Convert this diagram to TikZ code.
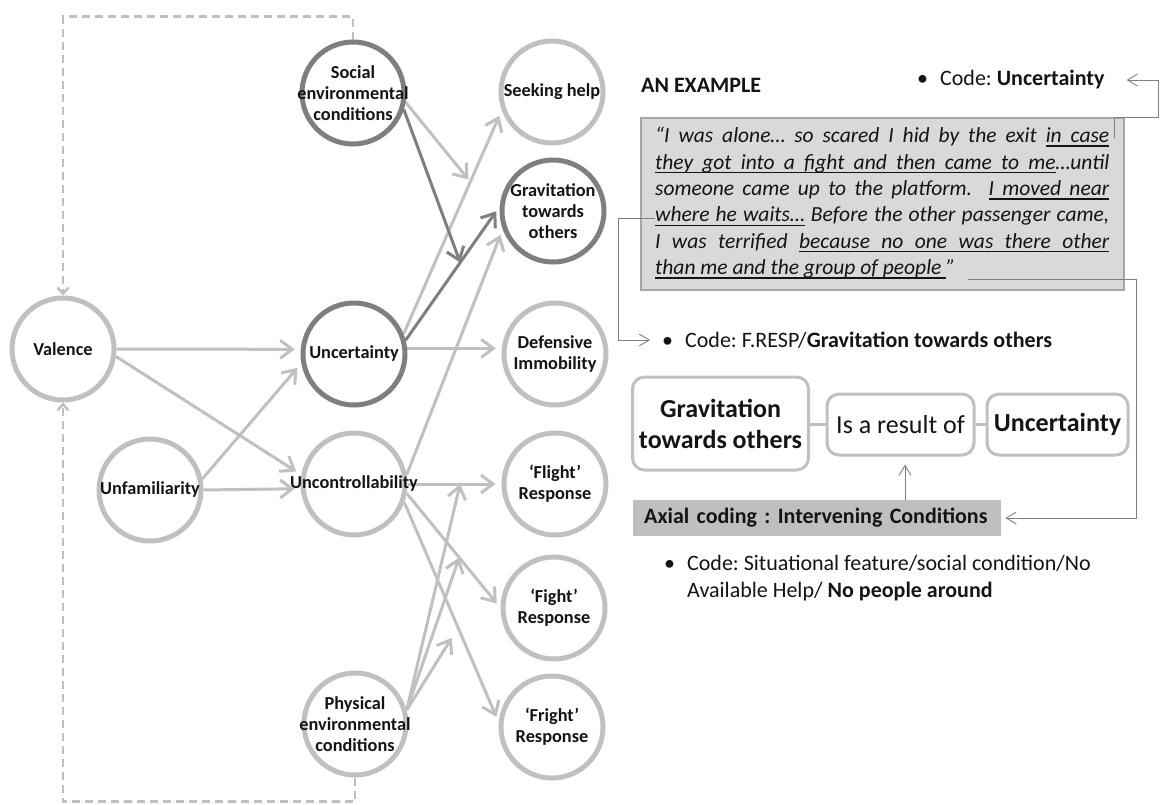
\documentclass[tikz,border=0pt]{standalone}
\usepackage{fontspec}
\setmainfont{Carlito}
\usetikzlibrary{arrows.meta,calc}

\definecolor{lightline}{HTML}{C0C0C0}
\definecolor{darkline}{HTML}{7F7F7F}
\definecolor{dashcol}{HTML}{C0C0C0}
\definecolor{ink}{HTML}{141414}
\definecolor{quotefill}{HTML}{D9D9D9}
\definecolor{quoteedge}{HTML}{A6A6A6}
\definecolor{axialfill}{HTML}{BFBFBF}
\definecolor{connector}{HTML}{7F7F7F}

% underlining that keeps inter-word spaces stretchable (for justified text)
\newcommand{\uw}[1]{\setbox0\hbox{#1}\rlap{\vrule height -2.8pt depth 4.1pt width \wd0}\box0\relax}
\newcommand{\us}{\leaders\hrule height -2.8pt depth 4.1pt\hskip\fontdimen2\font plus\fontdimen3\font minus\fontdimen4\font\relax}
\def\UL#1{\ULloop#1 \ULend}
\def\ULloop#1 #2\ULend{\uw{#1}\ifx\relax#2\relax\else\us\ULloop#2\ULend\fi}

\pgfdeclarelayer{bg}
\pgfsetlayers{bg,main}
\frenchspacing

\begin{document}
\begin{tikzpicture}[x=1pt,y=-1pt,
  circ/.style={circle, draw=lightline, line width=5pt, minimum size=102pt, inner sep=0pt},
  darkcirc/.style={circ, draw=darkline},
  lbl/.style={align=center, text=ink, inner sep=0pt, font=\fontsize{18.3}{21}\selectfont\bfseries},
  flow/.style={draw=lightline, line width=3pt, -{Straight Barb[length=12pt,width=18pt]}, shorten >=6pt},
  darkflow/.style={flow, draw=darkline},
  moderate/.style={flow, shorten >=3pt},
  feedback/.style={draw=dashcol, line width=2.5pt, dash pattern=on 8pt off 5pt, -{Straight Barb[length=6pt,width=11pt]}},
  conn/.style={draw=connector, line width=0.9pt},
  connarrow/.style={conn, -{Straight Barb[length=10pt,width=12pt]}},
  rbox/.style={rectangle, rounded corners=12pt, draw=lightline, line width=3pt, inner sep=2pt, align=center, text=ink},
  boxlink/.style={draw=lightline, line width=3pt},
  body/.style={inner sep=0pt, text=ink, font=\fontsize{22}{26.7}\selectfont}
]
\useasboundingbox (0,0) rectangle (1160,804);

% ---------- concept circles ----------
\node[darkcirc, label={[lbl]center:{Social\\environmental\\conditions}}] (soc) at (353,93) {};
\node[circ, label={[lbl]center:{Seeking help}}] (seek) at (552,92) {};
\node[darkcirc, label={[lbl]center:{Gravitation\\towards\\others}}] (grav) at (553,211) {};
\node[circ, label={[lbl]center:{Valence}}] (val) at (63,349) {};
\node[darkcirc, label={[lbl]center:{Uncertainty}}] (unc) at (354,354) {};
\node[circ, label={[lbl]center:{Defensive\\Immobility}}] (def) at (555,354) {};
\node[circ, label={[lbl]center:{Unfamiliarity}}] (unf) at (150,490) {};
\node[circ, label={[lbl]center:{Uncontrollability}}] (ctl) at (354,484) {};
\node[circ, label={[lbl]center:{‘Flight’\\Response}}] (flight) at (555,484) {};
\node[circ, label={[lbl]center:{‘Fight’\\Response}}] (fight) at (554,608) {};
\node[circ, label={[lbl]center:{‘Fright’\\Response}}] (fright) at (552,727) {};
\node[circ, label={[lbl]center:{Physical\\environmental\\conditions}}] (phys) at (355,724) {};

% ---------- causal links ----------
\begin{pgfonlayer}{bg}
\draw[flow] (val.east) -- (unc.175);
\draw[flow] (val.-8) -- (ctl.170);
\draw[flow] (unf.12) -- (unc.190);
\draw[flow] (unf.east) -- (ctl.185);

\draw[flow] (unc.22) -- coordinate[pos=0.68] (onseek) (seek.200);
\draw[darkflow] (unc.15) -- coordinate[pos=0.58] (ongrav) (grav.175);
\draw[flow] (unc.6) -- (def.174);

\draw[flow] (ctl.10) -- (grav.200);
\draw[flow] (ctl.east) -- coordinate[pos=0.56] (onflight) (flight.west);
\draw[flow] (ctl.-10) -- coordinate[pos=0.56] (onfight) (fight.180);
\draw[flow] (ctl.-20) -- coordinate[pos=0.57] (onfright) (fright.175);

% moderating conditions acting on the links
\draw[moderate] (soc.-10) -- (onseek);
\draw[darkflow, shorten >=0pt] (soc.-18) -- (ongrav);
\draw[moderate, shorten >=0pt] (phys.15) -- (onflight);
\draw[moderate, shorten >=0pt] (phys.15) -- (onfight);
\draw[moderate, shorten >=12pt] (phys.15) -- (onfright);

% feedback loops to valence
\draw[feedback] (soc.north) -- ++(0,-23) -| (val.north);
\draw[feedback] (phys.south) -- ++(0,24) -| (val.south);
\end{pgfonlayer}

% ---------- worked example ----------
\node[body, anchor=west, font=\fontsize{22}{26}\selectfont\bfseries] (example) at (641,85) {AN EXAMPLE};
\node[body, anchor=west] (codeU) at (917,80) {\textbullet\hspace{12pt}Code: \textbf{Uncertainty}};

\node[draw=quoteedge, fill=quotefill, line width=1.5pt, minimum width=483pt, minimum height=172pt, inner sep=0pt] (quote) at (882.5,204) {};
\node[body, anchor=north west, text width=454pt, align=justify, font=\fontsize{21.5}{26.4}\selectfont\itshape] (quotetext) at (655,127)
{“I was alone… so scared I hid by the exit \UL{in case}\linebreak
\UL{they got into a fight and then came to me}…until\linebreak
someone came up to the platform.\ \ \UL{I moved near}\linebreak
\UL{where he waits…} Before the other passenger came,\linebreak
I was terrified \UL{because no one was there other}\linebreak
\UL{than me and the group of people}\us”};

\coordinate (qtick) at (1114,138);
\coordinate (waits) at (655,218);
\coordinate (qend) at (968,279);

\node[body, anchor=west] (codeG) at (662,340) {\textbullet\hspace{12pt}Code: F.RESP/\textbf{Gravitation towards others}};

\node[rbox, minimum width=176pt, minimum height=93pt, font=\fontsize{26}{31}\selectfont\bfseries] (gbox) at (720.5,423.5) {Gravitation\\towards others};
\node[rbox, minimum width=147pt, minimum height=61pt, font=\fontsize{26}{30}\selectfont] (res) at (900.5,424.5) {Is a result of};
\node[rbox, minimum width=141pt, minimum height=61pt, font=\fontsize{26}{30}\selectfont\bfseries] (ubox) at (1057.5,424.5) {Uncertainty};
\draw[boxlink] (res.west -| gbox.east) -- (res.west);
\draw[boxlink] (res.east) -- (ubox.west);

\node[fill=axialfill, anchor=west, minimum height=36pt, text width=346pt, inner xsep=11pt, inner ysep=0pt, align=left, text=ink, font=\fontsize{22}{26}\selectfont\bfseries] (axial) at (633,518) {Axial coding : Intervening Conditions};

\node[body, anchor=north west, align=left] (sitcode) at (664,555)
{\textbullet\hspace{12pt}Code: Situational feature/social condition/No\\
\hspace*{23pt}Available Help/ \textbf{No people around}};

% ---------- connectors between quote and codes ----------
\draw[connarrow, shorten >=22pt] (qtick) -- (qtick |- quote.north) -- ++(44,0) |- (codeU.east);
\draw[connarrow, shorten >=12pt] (waits) -- ++(-37,0) |- (codeG.west);
\draw[connarrow, shorten >=4pt] (qend) -- ++(168,0) |- (axial.east);
\draw[connarrow, shorten >=8pt] ([xshift=4.5pt]res.south |- axial.north) -- ([xshift=4.5pt]res.south);

\end{tikzpicture}
\end{document}
